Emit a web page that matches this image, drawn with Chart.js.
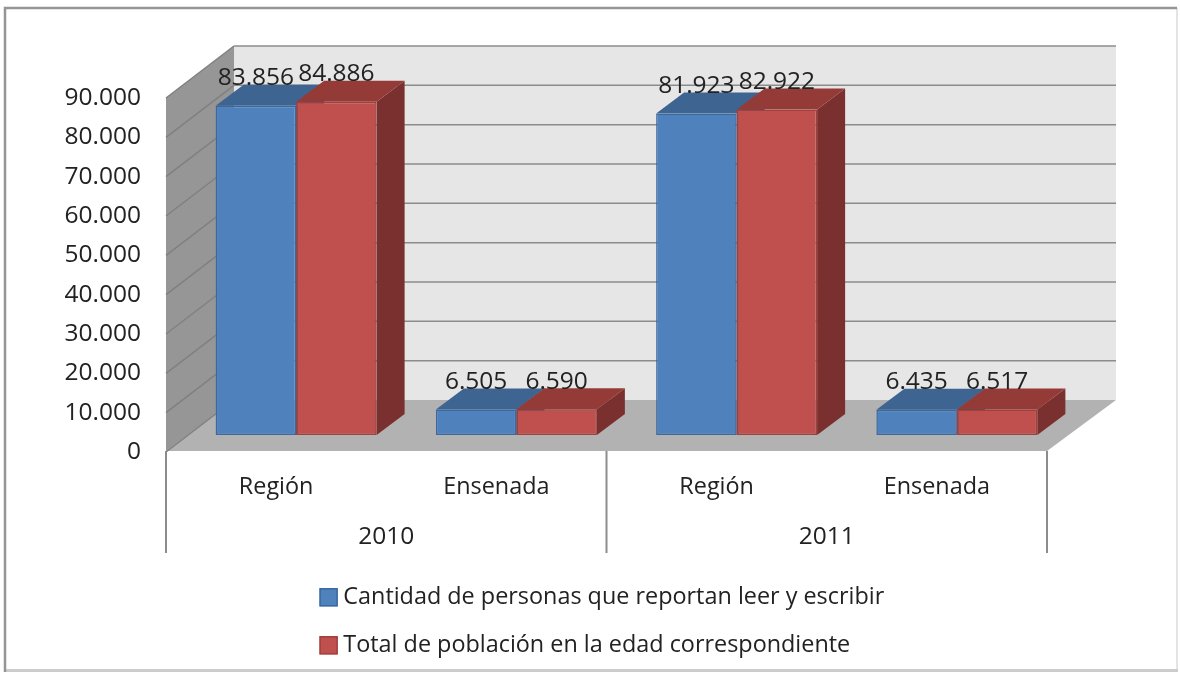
<!DOCTYPE html>
<html lang="es">
<head>
<meta charset="utf-8">
<style>
html,body{margin:0;padding:0;background:#fff}
#wrap{width:1180px;height:673px}
canvas{display:block;filter:blur(0.5px)}
</style>
<script src="https://cdn.jsdelivr.net/npm/chart.js@4"></script>
</head>
<body>
<div id="wrap"><canvas id="c" width="1180" height="673"></canvas></div>
<script>
const categories = ['Región', 'Ensenada', 'Región', 'Ensenada'];
const years = ['2010', '2011'];
const seriesNames = ['Cantidad de personas que reportan leer y escribir', 'Total de población en la edad correspondiente'];
const lectores = [83856, 6505, 81923, 6435];
const poblacion = [84886, 6590, 82922, 6517];
const tickValues = [0, 10000, 20000, 30000, 40000, 50000, 60000, 70000, 80000, 90000];
const axisMax = 90000;

const FONT = '"Open Sans"';
const FS = 23.4, FS_NUM = 24.5;
const TEXT = '#222222';
const fmt = v => String(Math.round(v)).replace(/\B(?=(\d{3})+$)/g, '.');

// projection of the 3D look (style, in px)
const WALL_DX = 68, WALL_DY = 52;
const BAR_DX = 28, BAR_DY = 21;
const BAR_SHIFT_CAT = 20 / 220.25;
const AXIS_PX = 354, BAR_PX = 353.3, FLOOR_OFFSET = 17;
const TOP = 40, ZERO = 452;
const uAxis = axisMax / AXIS_PX, uBar = axisMax / BAR_PX;

const colors = [
  {front:'#4F81BD', border:'#3A68A0', top:'#3E6491', side:'#34547A'},
  {front:'#C0504D', border:'#A23F3C', top:'#943B38', side:'#7A302E'}
];

const poly = (ctx, pts, fill) => {
  ctx.beginPath();
  pts.forEach((p, i) => i ? ctx.lineTo(p[0], p[1]) : ctx.moveTo(p[0], p[1]));
  ctx.closePath();
  ctx.fillStyle = fill;
  ctx.fill();
};

const scene = {
  id: 'scene',
  afterLayout(chart) {
    const lg = chart.legend;
    lg.left = 301;
    lg.top = 561;
  },
  beforeDraw(chart) {
    const c = chart.ctx;
    c.save();
    c.fillStyle = '#ffffff';
    c.fillRect(0, 0, chart.width, chart.height);
    c.strokeStyle = '#e4e4e4'; c.lineWidth = 2;
    c.beginPath(); c.moveTo(1177, 8); c.lineTo(1177, 670); c.stroke();
    c.strokeStyle = '#cccccc'; c.lineWidth = 3;
    c.beginPath(); c.moveTo(5, 670.5); c.lineTo(1178, 670.5); c.stroke();
    c.strokeStyle = '#959595'; c.lineWidth = 2.5;
    c.beginPath(); c.moveTo(5, 672); c.lineTo(5, 8); c.lineTo(1177, 8); c.stroke();
    c.restore();
  },
  beforeDatasetsDraw(chart) {
    const c = chart.ctx, y = chart.scales.y, a = chart.chartArea;
    const l = a.left, r = a.right, y0 = y.getPixelForValue(0), yM = y.getPixelForValue(axisMax);
    c.save();
    // back wall
    poly(c, [[l+WALL_DX, yM-WALL_DY], [r+WALL_DX+1, yM-WALL_DY], [r+WALL_DX+1, y0-WALL_DY], [l+WALL_DX, y0-WALL_DY]], '#E6E6E6');
    // side wall
    poly(c, [[l, yM], [l+WALL_DX, yM-WALL_DY], [l+WALL_DX, y0-WALL_DY], [l, y0]], '#969696');
    // floor
    poly(c, [[l, y0-1], [l+WALL_DX, y0-WALL_DY], [r+WALL_DX+1, y0-WALL_DY], [r, y0-1]], '#B2B2B2');
    // grid lines
    c.lineWidth = 1.5;
    tickValues.forEach(v => {
      const p = y.getPixelForValue(v);
      c.strokeStyle = '#808080';
      c.beginPath(); c.moveTo(l, p); c.lineTo(l+WALL_DX, p-WALL_DY); c.stroke();
      if (v > 0) {
        c.strokeStyle = '#8C8C8C';
        c.beginPath(); c.moveTo(l+WALL_DX, p-WALL_DY); c.lineTo(r+WALL_DX+1, p-WALL_DY); c.stroke();
      }
    });
    // category dividers and group labels
    c.strokeStyle = '#8C8C8C'; c.lineWidth = 2;
    [l, (l+r)/2, r].forEach(x => { c.beginPath(); c.moveTo(x, y0-1); c.lineTo(x, 553); c.stroke(); });
    c.fillStyle = TEXT;
    c.font = FS_NUM + 'px ' + FONT;
    c.textAlign = 'center'; c.textBaseline = 'middle';
    years.forEach((t, i) => c.fillText(t, l + (r-l)*(i+0.5)/years.length, 537.5));
    // 3D faces of the bars
    chart.data.datasets.forEach((ds, di) => {
      chart.getDatasetMeta(di).data.forEach(b => {
        const p = b.getProps(['x','y','base','width'], true);
        const L = p.x - p.width/2, R = p.x + p.width/2, T = p.y, B = p.base;
        poly(c, [[R,T],[R+BAR_DX,T-BAR_DY],[R+BAR_DX,B-BAR_DY],[R,B]], colors[di].side);
        poly(c, [[L,T],[L+BAR_DX,T-BAR_DY],[R+BAR_DX,T-BAR_DY],[R,T]], colors[di].top);
      });
    });
    c.restore();
  },
  afterDatasetsDraw(chart) {
    const c = chart.ctx;
    c.save();
    c.fillStyle = TEXT;
    c.font = FS_NUM + 'px ' + FONT;
    c.textAlign = 'center'; c.textBaseline = 'middle';
    chart.data.datasets.forEach((ds, di) => {
      chart.getDatasetMeta(di).data.forEach((b, i) => {
        c.fillText(fmt(ds.data[i].y), b.x, b.y - 27.5);
      });
    });
    c.restore();
  },
  afterDraw(chart) {
    const c = chart.ctx;
    c.save();
    c.lineWidth = 1.5;
    (chart.legend.legendHitBoxes || []).forEach((h, i) => {
      c.strokeStyle = colors[i].border;
      c.strokeRect(h.left - 5.5, h.top + h.height/2 - 8.5, 17, 17);
    });
    c.restore();
  }
};

new Chart(document.getElementById('c'), {
  type: 'bar',
  data: {
    datasets: [lectores, poblacion].map((vals, di) => ({
      label: seriesNames[di],
      data: categories.map((_, i) => ({x: i, y: vals[i]})),
      xAxisID: 'xb',
      yAxisID: 'yb',
      backgroundColor: colors[di].front,
      borderColor: colors[di].border,
      borderWidth: 1.5,
      borderSkipped: false,
      categoryPercentage: 161 / 220.25,
      barPercentage: 1
    }))
  },
  options: {
    responsive: false,
    animation: false,
    events: [],
    layout: {padding: {left: 6, right: 133, top: TOP, bottom: 0}},
    scales: {
      x: {
        type: 'category',
        labels: categories,
        offset: true,
        grid: {display: false, drawTicks: false},
        border: {display: false},
        ticks: {font: {family: FONT, size: FS}, color: TEXT, padding: 21, maxRotation: 0, autoSkip: false},
        afterFit(s) { s.height = 673 - ZERO - s.chart.legend.height; }
      },
      y: {
        type: 'linear',
        min: 0,
        max: (ZERO - TOP) * uAxis,
        grid: {display: false, drawTicks: false},
        border: {display: false},
        afterBuildTicks(s) { s.ticks = tickValues.map(value => ({value})); },
        ticks: {
          autoSkip: false,
          font: {family: FONT, size: FS_NUM},
          color: TEXT,
          padding: 25,
          callback: v => fmt(v)
        },
        afterFit(s) { s.width = 160; }
      },
      xb: {
        type: 'linear',
        axis: 'x',
        display: false,
        offset: false,
        min: -0.5 - BAR_SHIFT_CAT,
        max: categories.length - 0.5 - BAR_SHIFT_CAT,
        afterBuildTicks(s) { s.ticks = categories.map((_, i) => ({value: i})); }
      },
      yb: {
        type: 'linear',
        axis: 'y',
        display: false,
        min: -FLOOR_OFFSET * uBar,
        max: (ZERO - FLOOR_OFFSET - TOP) * uBar
      }
    },
    plugins: {
      tooltip: {enabled: false},
      title: {display: false},
      legend: {
        display: true,
        position: 'bottom',
        align: 'start',
        labels: {
          boxWidth: 6,
          boxHeight: 6,
          padding: 24.6,
          color: TEXT,
          font: {family: FONT, size: FS},
          generateLabels: chart => chart.data.datasets.map((ds, i) => ({
            text: ds.label,
            fillStyle: ds.backgroundColor,
            strokeStyle: ds.backgroundColor,
            lineWidth: 12,
            fontColor: TEXT,
            datasetIndex: i
          }))
        }
      }
    }
  },
  plugins: [scene]
});
</script>
</body>
</html>
